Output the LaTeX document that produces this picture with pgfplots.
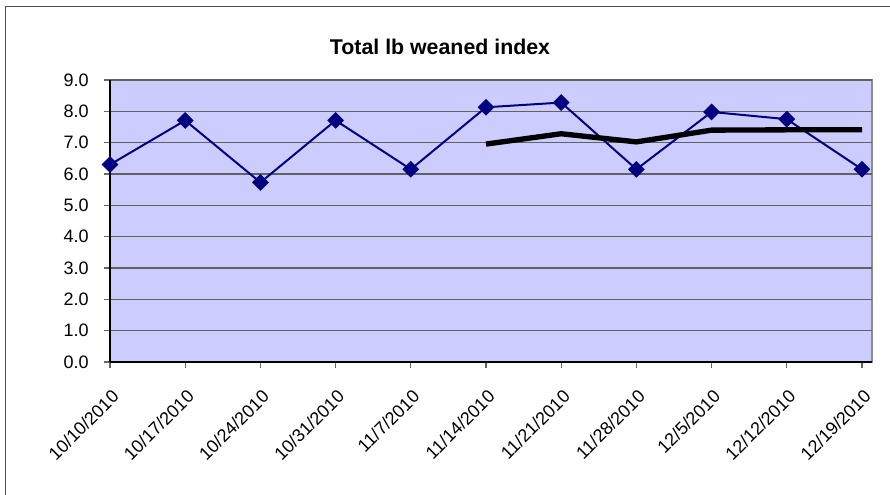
\documentclass[border=0pt]{standalone}
\usepackage{fontspec}
\setmainfont{Liberation Sans}
\usepackage{pgfplots}
\pgfplotsset{compat=1.18}
\definecolor{plotbg}{RGB}{204,204,255}
\definecolor{navyline}{RGB}{0,0,128}
\begin{document}
\begin{tikzpicture}
\path[use as bounding box] (0,0) rectangle (667.5pt,371.25pt);
\draw[black!70, line width=0.75pt] (3.75pt,0) -- (3.75pt,366pt) -- (667.5pt,366pt);
\node[font=\fontsize{16}{19}\selectfont\bfseries] at (330pt,336pt) {Total lb weaned index};
\begin{axis}[
  at={(82.5pt,99.75pt)}, anchor=south west,
  scale only axis, width=571.5pt, height=211.5pt,
  xmin=0, xmax=10.133, ymin=0, ymax=9,
  axis x line*=bottom, axis y line*=left,
  axis line style={-, black, line width=1.1pt},
  axis background/.style={fill=plotbg, draw=black!45, line width=1.9pt},
  xtick={0,...,10},
  xticklabels={10/10/2010,10/17/2010,10/24/2010,10/31/2010,11/7/2010,11/14/2010,11/21/2010,11/28/2010,12/5/2010,12/12/2010,12/19/2010},
  ytick={0,1,...,9},
  tick align=outside, major tick length=4.5pt,
  tick style={black!60, line width=0.8pt},
  ymajorgrids, grid style={black!62, line width=0.8pt},
  /pgf/number format/assume math mode=true,
  ticklabel style={font=\fontsize{13.5}{16}\selectfont},
  yticklabel style={xshift=-8pt, /pgf/number format/.cd, fixed, fixed zerofill, precision=1},
  xticklabel style={yshift=-10.5pt, xshift=0.5pt, rotate=45, anchor=north east},
  clip=false,
]
\addplot[navyline, line width=1.5pt, mark=square*, mark size=3.7pt, mark options={rotate=45, solid, fill=navyline}]
  coordinates {(0,6.30) (1,7.71) (2,5.73) (3,7.71) (4,6.15) (5,8.13) (6,8.28) (7,6.15) (8,7.98) (9,7.75) (10,6.15)};
\addplot[black, line width=4pt, no marks]
  coordinates {(5,6.955) (6,7.285) (7,7.025) (8,7.40) (9,7.41) (10,7.41)};
\end{axis}
\end{tikzpicture}
\end{document}
